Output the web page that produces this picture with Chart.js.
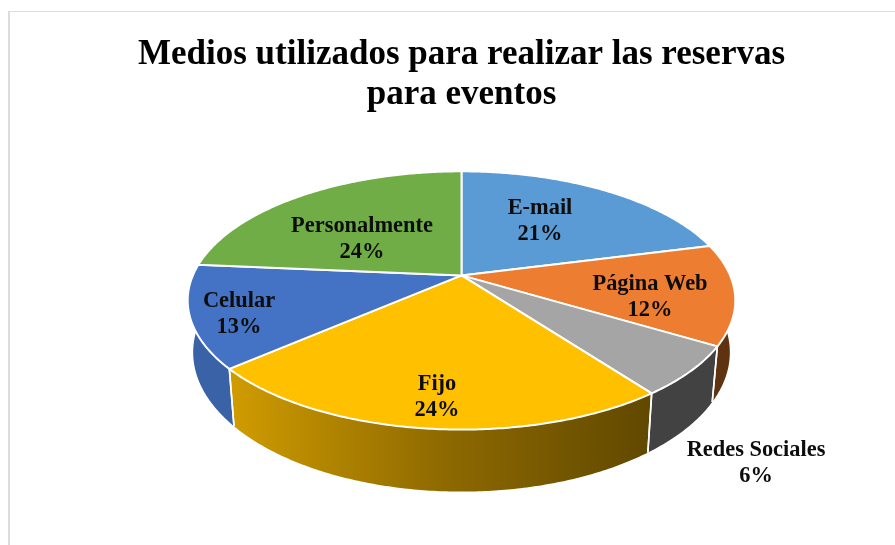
<!DOCTYPE html>
<html lang="es">
<head>
<meta charset="utf-8">
<title>Medios utilizados</title>
<script src="https://cdn.jsdelivr.net/npm/chart.js@4"></script>
<style>
html,body{margin:0;padding:0;background:#fff;overflow:hidden}
#wrap{position:relative;width:895px;height:545px}
#frame{position:absolute;left:8px;top:11px;right:0;bottom:0;border-left:2px solid #dcdcdc;border-top:1px solid #dcdcdc}
canvas{position:absolute;left:0;top:0}
</style>
</head>
<body>
<div id="wrap"><div id="frame"></div><canvas id="c" width="895" height="545"></canvas></div>
<script>
const titleLines = ['Medios utilizados para realizar las reservas', 'para eventos'];
const categories = ['E-mail', 'Página Web', 'Redes Sociales', 'Fijo', 'Celular', 'Personalmente'];
const shares = [21.0, 12.6, 6.2, 23.8, 12.8, 23.6];
const percentLabels = ['21%', '12%', '6%', '24%', '13%', '24%'];
const faceColors = ['#5B9BD5', '#ED7D31', '#A5A5A5', '#FFC000', '#4472C4', '#70AD47'];
const wallColors = ['#3f6f9c', '#5f3210', '#424242', null, '#3a62a6', '#4f7a32'];
const fijoWallStops = ['#d09c00', '#8f6a00', '#604800'];
const labelAnchors = [[540, 221], [650, 297], [756, 463], [437, 397], [239, 314], [362, 239]];

// Tilted-disc projection applied to the angles and radius the library computes.
const TILT_Y = 0.4626, PERSP = -0.194;
const RIM_CENTER = 25.5, BASE_CENTER = 77.5, BASE_SHRINK_X = 0.98, BASE_STRETCH_Y = 1.078;
function project(el, a, r) {
  const u = Math.cos(a) * r, v = Math.sin(a) * r, w = 1 + PERSP * v;
  return [el.x + el.outerRadius * u / w, el.y + el.outerRadius * TILT_Y * v / w];
}
function base(el, p) {
  return [el.x + (p[0] - el.x) * BASE_SHRINK_X,
          el.y + BASE_CENTER + (p[1] - el.y - RIM_CENTER) * BASE_STRETCH_Y];
}
function rim(el) {
  const n = Math.max(2, Math.ceil((el.endAngle - el.startAngle) / 0.01)), pts = [];
  for (let i = 0; i <= n; i++) pts.push(project(el, el.startAngle + (el.endAngle - el.startAngle) * i / n, 1));
  return pts;
}
Chart.ArcElement.prototype.draw = function (ctx) {
  const pts = rim(this), c = project(this, 0, 0);
  ctx.save();
  ctx.beginPath();
  ctx.moveTo(c[0], c[1]);
  pts.forEach(p => ctx.lineTo(p[0], p[1]));
  ctx.closePath();
  ctx.fillStyle = this.options.backgroundColor;
  ctx.fill();
  ctx.strokeStyle = this.options.borderColor;
  ctx.lineWidth = this.options.borderWidth;
  ctx.lineJoin = 'round';
  ctx.stroke();
  ctx.restore();
};

const wallsPlugin = {
  id: 'walls',
  beforeDatasetsDraw(chart) {
    const ctx = chart.ctx, arcs = chart.getDatasetMeta(0).data;
    arcs.forEach((el, i) => {
      const pts = rim(el);
      ctx.beginPath();
      pts.forEach((p, j) => j ? ctx.lineTo(p[0], p[1]) : ctx.moveTo(p[0], p[1]));
      pts.slice().reverse().forEach(p => { const b = base(el, p); ctx.lineTo(b[0], b[1]); });
      ctx.closePath();
      if (wallColors[i]) {
        ctx.fillStyle = wallColors[i];
      } else {
        const g = ctx.createLinearGradient(pts[pts.length - 1][0], 0, pts[0][0], 0);
        fijoWallStops.forEach((s, k) => g.addColorStop(k / (fijoWallStops.length - 1), s));
        ctx.fillStyle = g;
      }
      ctx.fill();
    });
    ctx.strokeStyle = '#ffffff';
    ctx.lineWidth = 1.6;
    arcs.forEach(el => {
      [el.startAngle, el.endAngle].forEach(a => {
        if (Math.sin(a) > 0.1) {
          const p = project(el, a, 1), b = base(el, p);
          ctx.beginPath(); ctx.moveTo(p[0], p[1]); ctx.lineTo(b[0], b[1]); ctx.stroke();
        }
      });
    });
  }
};

const labelsPlugin = {
  id: 'sliceLabels',
  afterDatasetsDraw(chart) {
    const ctx = chart.ctx;
    ctx.save();
    ctx.font = 'bold 22.4px "Liberation Serif"';
    ctx.fillStyle = '#0d0d0d';
    ctx.textAlign = 'center';
    ctx.textBaseline = 'middle';
    categories.forEach((name, i) => {
      const [x, y] = labelAnchors[i];
      ctx.fillText(name, x, y - 13);
      ctx.fillText(percentLabels[i], x, y + 13);
    });
    ctx.restore();
  }
};

new Chart(document.getElementById('c'), {
  type: 'pie',
  data: {
    labels: categories,
    datasets: [{
      data: shares,
      backgroundColor: faceColors,
      borderColor: '#ffffff',
      borderWidth: 2,
      clip: false
    }]
  },
  options: {
    responsive: false,
    animation: false,
    layout: { padding: { left: 28, right: 0, top: 0, bottom: 0 } },
    plugins: {
      legend: { display: false },
      tooltip: { enabled: false },
      title: {
        display: true,
        text: titleLines,
        color: '#000000',
        font: { family: '"Liberation Serif"', size: 35, weight: 'bold', lineHeight: 1.14 },
        padding: { top: 35, bottom: -109 }
      }
    }
  },
  plugins: [wallsPlugin, labelsPlugin]
});
</script>
</body>
</html>
